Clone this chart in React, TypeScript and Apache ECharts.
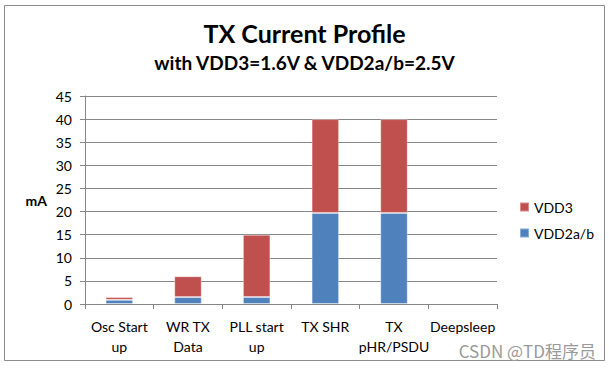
import React, { useEffect, useRef } from "react";
import * as echarts from "echarts";

const categories = ["Osc Start\nup", "WR TX\nData", "PLL start\nup", "TX SHR", "TX\npHR/PSDU", "Deepsleep"];
const vdd2ab = [0.9, 1.5, 1.5, 19.7, 19.7, 0];
const vdd3 = [0.6, 4.5, 13.5, 20.3, 20.3, 0];
const yTicks = { min: 0, max: 45, interval: 5 };

const FONT = "Lato, 'Open Sans', sans-serif";

const hideZero = (arr: number[]) => arr.map((v) => (v === 0 ? null : v));

export default function App() {
  const ref = useRef<HTMLDivElement>(null);
  useEffect(() => {
    const chart = echarts.init(ref.current!, undefined, { renderer: "svg" });
    chart.setOption({
      animation: false,
      backgroundColor: "#ffffff",
      title: [
        {
          text: "TX Current Profile",
          left: "center",
          top: 15,
          textStyle: { fontFamily: FONT, fontSize: 25, fontWeight: "bold", color: "#000" },
        },
        {
          text: "with VDD3=1.6V & VDD2a/b=2.5V",
          left: "center",
          top: 48,
          textStyle: { fontFamily: FONT, fontSize: 19, fontWeight: "bold", color: "#000" },
        },
      ],
      legend: {
        orient: "vertical",
        left: 514,
        top: 195,
        itemWidth: 9,
        itemHeight: 9,
        itemGap: 12,
        icon: "rect",
        data: ["VDD3", "VDD2a/b"],
        textStyle: { fontFamily: FONT, fontSize: 14, color: "#000" },
      },
      grid: { left: 85, right: 112, top: 96, bottom: 67 },
      xAxis: {
        type: "category",
        data: categories,
        axisLine: { lineStyle: { color: "#868686" } },
        axisTick: { show: true, length: 5, alignWithLabel: false, lineStyle: { color: "#868686" } },
        axisLabel: {
          interval: 0,
          margin: 12,
          fontFamily: FONT,
          fontSize: 14,
          color: "#000",
          lineHeight: 20,
        },
      },
      yAxis: {
        type: "value",
        min: yTicks.min,
        max: yTicks.max,
        interval: yTicks.interval,
        name: "mA",
        nameLocation: "middle",
        nameRotate: 0,
        nameGap: 38,
        nameTextStyle: { fontFamily: FONT, fontSize: 14, fontWeight: "bold", color: "#000" },
        axisLine: { show: true, lineStyle: { color: "#868686" } },
        axisTick: { show: true, length: 5, lineStyle: { color: "#868686" } },
        axisLabel: { fontFamily: FONT, fontSize: 14, color: "#000", margin: 13 },
        splitLine: { lineStyle: { color: "#868686", width: 1 } },
      },
      series: [
        {
          name: "VDD2a/b",
          type: "bar",
          stack: "total",
          barWidth: "40%",
          data: hideZero(vdd2ab),
          itemStyle: { color: "#4F81BD", borderColor: "rgba(255,255,255,0.35)", borderWidth: 1 },
        },
        {
          name: "VDD3",
          type: "bar",
          stack: "total",
          barWidth: "40%",
          data: hideZero(vdd3),
          itemStyle: { color: "#C0504D", borderColor: "rgba(255,255,255,0.35)", borderWidth: 1 },
        },
      ],
      graphic: [
        {
          type: "rect",
          shape: { x: 4.5, y: 5.5, width: 600, height: 355 },
          style: { fill: "none", stroke: "#8c8c8c", lineWidth: 1 },
          silent: true,
        },
        {
          type: "text",
          right: 13,
          top: 342,
          style: {
            text: "CSDN @TD程序员",
            fill: "#9a9a9a",
            fontSize: 17,
            fontFamily: "'Noto Sans CJK SC', sans-serif",
          },
        },
      ],
    });
    return () => chart.dispose();
  }, []);
  return (
    <div
      ref={ref}
      style={{ position: "fixed", left: 0, top: 0, width: 609, height: 371 }}
    />
  );
}
